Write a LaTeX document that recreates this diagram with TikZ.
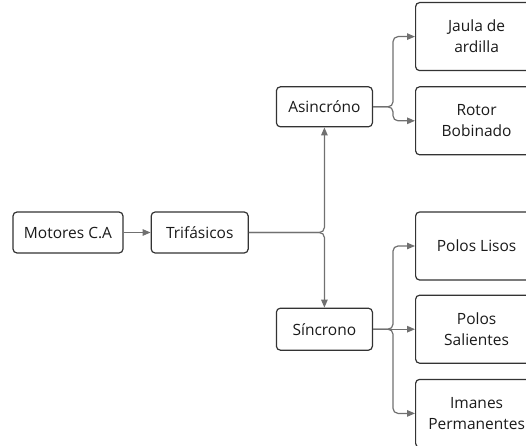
\documentclass[tikz,border=0pt]{standalone}
\usepackage{fontspec}
\setmainfont{Open Sans}
\usetikzlibrary{positioning}
\usetikzlibrary{calc}
\usetikzlibrary{arrows.meta}
\definecolor{boxline}{HTML}{333333}
\definecolor{wire}{HTML}{707070}
\definecolor{txt}{HTML}{1A1A1A}

\begin{document}
\begin{tikzpicture}[x=1pt, y=1pt,
        box/.style={draw=boxline, line width=1.2pt, rounded corners=4pt, text=txt,
            font=\fontsize{15.5}{21}\selectfont, align=center, inner sep=0pt},
        small/.style={box, minimum height=41pt},
        big/.style={box, minimum width=122pt, minimum height=68pt},
        wire/.style={draw=wire, line width=1.2pt, rounded corners=5pt},
        tip/.style={wire, -{Triangle[length=8pt, width=6.5pt]}}]
            \useasboundingbox (0,0) rectangle (526,445);
            \clip (0,0) rectangle (526,445);
            \node[small, minimum width=110pt] (M) at (68,212.5) {Motores C.A};
            \node[small, minimum width=97pt, right = 27pt of M] (T) {Trifásicos};
            \node[small, minimum width=96pt, minimum height=40pt, above right = 84pt and 27pt of T] (A) {Asincróno};
            \node[small, minimum width=96pt, minimum height=42pt, below right = 54pt and 27pt of T] (S) {Síncrono};
            \node[big, above right = 15pt and 42pt of A] (J) {Jaula de\\ardilla};
            \node[big, below = 15pt of J] (R) {Rotor\\Bobinado};
            \node[big, right = 42pt of S] (PS) {Polos\\Salientes};
            \node[big, above = 14pt of PS] (PL) {Polos Lisos};
            \node[big, below = 15pt of PS] (IP) {Imanes\\Permanentes};

            \draw[tip] (M) -- (T);
            \draw[tip] (T.east) -| (A.south);
            \draw[tip] (T.east) -| (S.north);

            \coordinate (a) at ($(A.east)+(20,0)$);
            \draw[tip] (A.east) -- (a) |- (J.west);
            \draw[tip] (A.east) -- (a) |- (R.west);

            \coordinate (s) at ($(S.east)+(20,0)$);
            \draw[tip] (S.east) -- (s) |- (PL.west);
            \draw[tip] (S) -- (PS);
            \draw[tip] (S.east) -- (s) |- (IP.west);
        \end{tikzpicture}
\end{document}
